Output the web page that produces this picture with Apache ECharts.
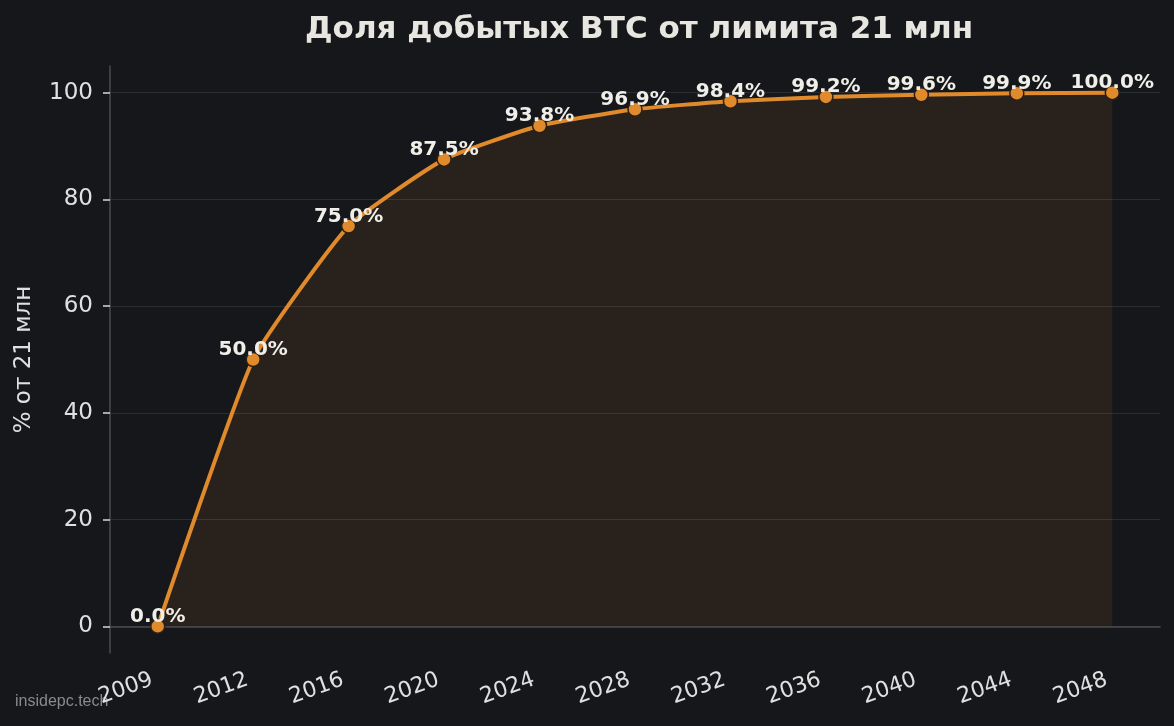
<!DOCTYPE html>
<html><head><meta charset="utf-8">
<script src="https://cdn.jsdelivr.net/npm/echarts@6/dist/echarts.min.js"></script>
<style>html,body{margin:0;padding:0;background:#16171b;}#c{width:1174px;height:726px;}</style>
</head><body><div id="c"></div>
<script>
const years = ['2009','2012','2016','2020','2024','2028','2032','2036','2040','2044','2048'];
const minedPct = [0, 50, 75, 87.5, 93.8, 96.9, 98.4, 99.2, 99.6, 99.9, 100];
const yTicks = [0, 20, 40, 60, 80, 100];
const titleText = 'Доля добытых BTC от лимита 21 млн';
const yName = '% от 21 млн';
const watermark = 'insidepc.tech';

const font = 'DejaVu Sans';
const chart = echarts.init(document.getElementById('c'));
chart.setOption({
  backgroundColor: '#16171b',
  animation: false,
  title: {text: titleText, left: 300, top: 9,
    textStyle: {color: '#e8e6e0', fontSize: 31, fontWeight: 'bold', fontFamily: font}},
  graphic: [{type: 'text', left: 15, top: 694,
    style: {text: watermark, fill: '#8a8a8e', fontSize: 16, fontFamily: 'Liberation Sans'}}],
  grid: {left: 110, right: 14, top: 66, bottom: 73, containLabel: false},
  xAxis: {
    type: 'category', data: years, boundaryGap: true,
    axisLine: {lineStyle: {color: '#4a4b50', width: 1.5}},
    axisTick: {alignWithLabel: true, length: 7, lineStyle: {color: '#d8d8d8', width: 1.5}},
    axisLabel: {color: '#e0e0e0', fontSize: 22, fontFamily: font, rotate: 20, margin: 24, padding: [0, 6, 0, 0]},
    splitLine: {show: false}
  },
  yAxis: {
    type: 'value', min: -5, max: 105,
    name: yName, nameLocation: 'middle', nameGap: 74,
    nameTextStyle: {color: '#e0e0e0', fontSize: 23, fontFamily: font},
    axisLine: {show: true, lineStyle: {color: '#4a4b50', width: 1.5}},
    axisTick: {show: true, length: 7, customValues: yTicks, lineStyle: {color: '#d8d8d8', width: 1.5}},
    axisLabel: {color: '#e0e0e0', fontSize: 23, fontFamily: font, customValues: yTicks, margin: 17},
    splitLine: {show: true, lineStyle: {color: '#2c2d32', width: 1.2}}
  },
  series: [{
    type: 'line', data: minedPct, smooth: 0.15,
    symbol: 'circle', symbolSize: 14,
    itemStyle: {color: '#e08a2c', borderColor: '#2a2018', borderWidth: 1.5},
    lineStyle: {color: '#e08a2c', width: 4},
    areaStyle: {color: 'rgba(224,138,44,0.14)'},
    label: {show: true, position: 'top', distance: -8, color: '#f0eee8', fontSize: 20, fontWeight: 'bold', fontFamily: font,
      formatter: p => p.value.toFixed(1) + '%'}
  }]
});
</script></body></html>
